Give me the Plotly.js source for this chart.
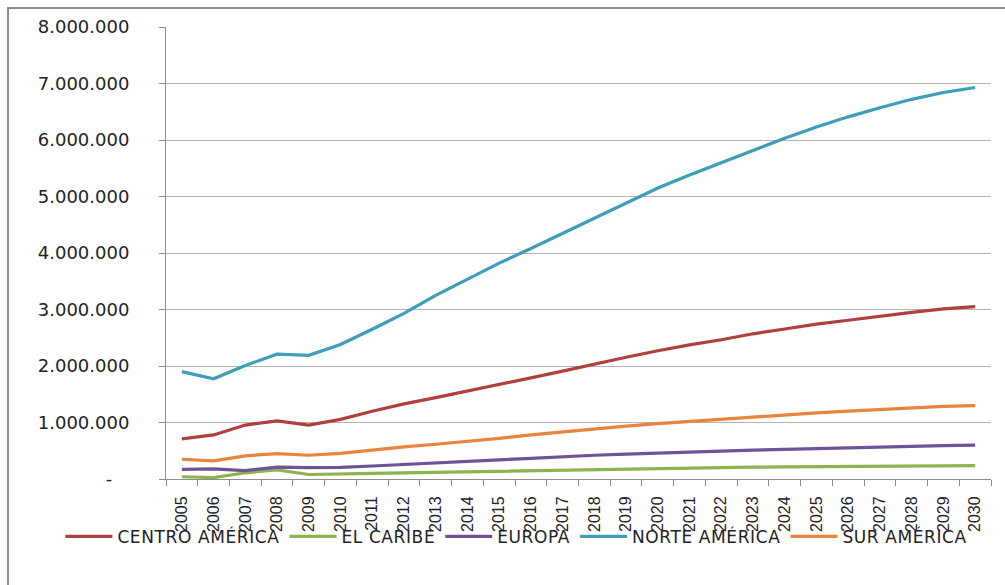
<!DOCTYPE html>
<html>
<head>
<meta charset="utf-8">
<script src="https://cdn.plot.ly/plotly-3.0.1.min.js"></script>
<style>
  html, body { margin: 0; padding: 0; background: #fff; }
  #wrap { position: relative; width: 1005px; height: 585px; overflow: hidden; }
  #chart { position: absolute; left: 0; top: 0; width: 1005px; height: 585px; }
  #frame { position: absolute; left: 7px; top: 7px; width: 1100px; height: 700px;
           border-left: 2px solid #8c8c8c; border-top: 2px solid #8c8c8c; pointer-events: none; }
  .legendtext { letter-spacing: 0.6px; }
</style>
</head>
<body>
<div id="wrap">
  <div id="chart"></div>
  <div id="frame"></div>
</div>
<script>
const years = ['2005','2006','2007','2008','2009','2010','2011','2012','2013','2014','2015','2016','2017',
               '2018','2019','2020','2021','2022','2023','2024','2025','2026','2027','2028','2029','2030'];

const centroAmerica = [710000, 780000, 955000, 1030000, 955000, 1055000, 1200000, 1330000, 1440000, 1555000,
  1665000, 1790000, 1910000, 2035000, 2155000, 2270000, 2375000, 2465000, 2570000, 2655000, 2740000, 2810000,
  2885000, 2950000, 3010000, 3050000];
const elCaribe = [40000, 25000, 110000, 160000, 80000, 95000, 100000, 110000, 120000, 130000, 140000, 150000,
  160000, 170000, 180000, 185000, 195000, 200000, 210000, 215000, 220000, 225000, 230000, 232000, 235000, 237000];
const europa = [170000, 180000, 150000, 210000, 200000, 205000, 230000, 260000, 280000, 310000, 340000, 365000,
  395000, 420000, 440000, 460000, 480000, 495000, 510000, 525000, 540000, 555000, 568000, 580000, 592000, 600000];
const norteAmerica = [1900000, 1775000, 2010000, 2210000, 2190000, 2380000, 2650000, 2930000, 3250000, 3540000,
  3820000, 4080000, 4350000, 4620000, 4880000, 5150000, 5380000, 5600000, 5820000, 6030000, 6230000, 6410000,
  6570000, 6720000, 6840000, 6930000];
const surAmerica = [350000, 320000, 410000, 450000, 420000, 455000, 510000, 570000, 615000, 665000, 720000,
  780000, 835000, 885000, 935000, 980000, 1020000, 1060000, 1100000, 1140000, 1170000, 1200000, 1230000,
  1260000, 1285000, 1300000];

const seriesNames = ['CENTRO AMÉRICA', 'EL CARIBE', 'EUROPA', 'NORTE AMÉRICA', 'SUR AMÉRICA'];
const seriesValues = [centroAmerica, elCaribe, europa, norteAmerica, surAmerica];
const seriesColors = ['#B0403D', '#8DB34E', '#6E5399', '#3E9DB8', '#E8843B'];

const yTickVals = [0, 1000000, 2000000, 3000000, 4000000, 5000000, 6000000, 7000000, 8000000];
const yTickText = ['-\u00a0\u00a0\u00a0', '1.000.000', '2.000.000', '3.000.000', '4.000.000', '5.000.000',
  '6.000.000', '7.000.000', '8.000.000'];

const traces = seriesNames.map((n, i) => ({
  type: 'scatter', mode: 'lines', name: n, x: years, y: seriesValues[i],
  line: { color: seriesColors[i], width: 3.2 }
}));

const layout = {
  width: 1005, height: 585,
  margin: { l: 166, r: 14, t: 27, b: 106, autoexpand: false },
  paper_bgcolor: 'rgba(0,0,0,0)', plot_bgcolor: '#fff',
  showlegend: true,
  legend: {
    orientation: 'h', xref: 'paper', yref: 'paper',
    x: -0.128, xanchor: 'left', y: -0.128, yanchor: 'middle',
    font: { family: 'DejaVu Sans', size: 17, color: '#222' },
    itemwidth: 47, tracegroupgap: 0
  },
  xaxis: {
    type: 'category', tickson: 'boundaries', ticks: 'outside', ticklen: 6, tickcolor: '#8c8c8c',
    showline: true, linecolor: '#8c8c8c', linewidth: 1, showgrid: false,
    tickangle: -90, tickfont: { family: 'Liberation Sans Narrow, Liberation Sans', size: 16, color: '#222' },
    ticklabelstandoff: 10,
    range: [-0.5, 25.5]
  },
  yaxis: {
    range: [0, 8000000], tickvals: yTickVals, ticktext: yTickText,
    ticks: 'outside', ticklen: 6, tickcolor: '#8c8c8c',
    showline: true, linecolor: '#8c8c8c', linewidth: 1,
    showgrid: true, gridcolor: '#b4b4b4', gridwidth: 1, zeroline: false,
    tickfont: { family: 'DejaVu Sans', size: 18, color: '#222' },
    ticklabelstandoff: 26
  }
};

Plotly.newPlot('chart', traces, layout, { displayModeBar: false, staticPlot: true });
</script>
</body>
</html>
